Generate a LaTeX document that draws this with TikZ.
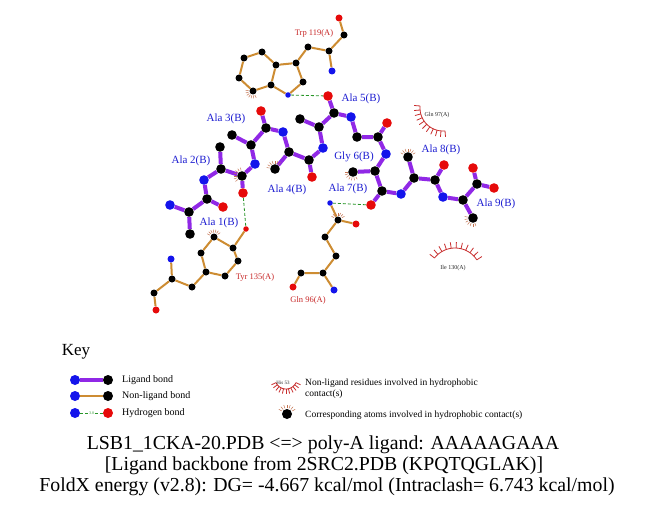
\documentclass[tikz,border=0pt]{standalone}
\usepackage{fontspec}
\setmainfont{Liberation Serif}
\usetikzlibrary{backgrounds,calc}
\definecolor{ligc}{RGB}{144,40,230}
\definecolor{nonc}{RGB}{205,140,50}
\definecolor{nblue}{RGB}{20,20,235}
\definecolor{ored}{RGB}{230,10,10}
\definecolor{hbc}{RGB}{40,150,40}
\definecolor{labblue}{RGB}{30,30,210}
\definecolor{labred}{RGB}{200,40,40}
\definecolor{spk}{RGB}{200,45,45}
\definecolor{aspk}{RGB}{195,115,80}
\tikzset{
 latom/.style={circle,inner sep=0pt,minimum size=9.6pt},
 natom/.style={circle,inner sep=0pt,minimum size=7pt},
 satom/.style={circle,inner sep=0pt,minimum size=5.5pt},
 katom/.style={circle,inner sep=0pt,minimum size=10pt},
 atk/.style={fill=black}, atb/.style={fill=nblue}, atr/.style={fill=ored},
 lbond/.style={draw=ligc,line width=4pt},
 nbond/.style={draw=nonc,line width=2pt},
 hbond/.style={draw=hbc,line width=0.8pt,dash pattern=on 3pt off 2pt},
 liglab/.style={text=labblue,font=\fontsize{11}{13}\selectfont,inner sep=0pt},
 reslab/.style={text=labred,font=\fontsize{8.5}{10}\selectfont,inner sep=0pt},
 tinylab/.style={text=black!85,font=\fontsize{6}{7}\selectfont,inner sep=0pt},
 keytxt/.style={font=\fontsize{10}{12}\selectfont,inner sep=0pt,anchor=west},
 bigtxt/.style={font=\fontsize{19.8}{22}\selectfont,inner sep=0pt},
 spike/.style={draw=spk,line width=0.8pt},
 aspike/.style={draw=aspk,line width=0.5pt},
}
% hydrophobic marks round an atom: node, direction, inner r, outer r
\newcommand\hydmark[4]{%
 \foreach \a in {-60,-40,...,60}{%
   \pgfmathsetmacro\ang{#2+\a}
   \draw[aspike] ($(#1)+(\ang:#3)$) -- ($(#1)+(\ang:#4)$);
 }}
% residue arc: cx, cy, r, a1, a2, spike length
\newcommand\resarc[6]{%
 \draw[spike] plot[smooth,domain=#4:#5,samples=25] ({#1+#3*cos(\x)},{#2+#3*sin(\x)});
 \pgfmathsetmacro\stp{(#5-#4)/10}
 \foreach \k in {0,...,10}{%
   \pgfmathsetmacro\tt{#4+\k*\stp}
   \draw[spike] ({#1+#3*cos(\tt)},{#2+#3*sin(\tt)}) -- ({#1+(#3+#6)*cos(\tt)},{#2+(#3+#6)*sin(\tt)});
 }}
\begin{document}
\begin{tikzpicture}[x=1pt,y=-1pt]
\useasboundingbox (0,0) rectangle (651,511);
% ---------- Trp 119(A)
\node[natom,atr] (w1) at (339,18) {};
\node[natom,atk] (w2) at (344,35) {};
\node[natom,atk] (w3) at (329,51) {};
\node[natom,atb] (w4) at (332,71) {};
\node[natom,atk] (w5) at (308,47) {};
\node[natom,atk] (w6) at (296,63) {};
\node[natom,atk] (w7) at (276,65) {};
\node[natom,atk] (w8) at (262,52) {};
\node[natom,atk] (w9) at (244,58) {};
\node[natom,atk] (w10) at (239,78) {};
\node[natom,atk] (w11) at (253,91) {};
\node[natom,atk] (w12) at (271,85) {};
\node[natom,atk] (w13) at (303,82) {};
\node[satom,atb] (w14) at (288,95) {};
\node[reslab] (lw) at (314,33) {Trp 119(A)};
% ---------- Tyr 135(A)
\node[satom,atr] (y1) at (246,229) {};
\node[natom,atk] (y2) at (233,248) {};
\node[natom,atk] (y3) at (214,237) {};
\node[natom,atk] (y4) at (201,253) {};
\node[natom,atk] (y5) at (206,272) {};
\node[natom,atk] (y6) at (225,276) {};
\node[natom,atk] (y7) at (238,261) {};
\node[natom,atk] (y8) at (192,287) {};
\node[natom,atk] (y9) at (172,279) {};
\node[natom,atb] (y10) at (171,259) {};
\node[natom,atk] (y11) at (154,293) {};
\node[natom,atr] (y12) at (156,310) {};
\node[reslab] (ly) at (255,277) {Tyr 135(A)};
% ---------- Gln 96(A)
\node[satom,atb] (q1) at (330,203) {};
\node[natom,atk] (q2) at (338,220) {};
\node[natom,atr] (q3) at (356,224) {};
\node[natom,atk] (q4) at (325,237) {};
\node[natom,atk] (q5) at (336,256) {};
\node[natom,atk] (q6) at (323,273) {};
\node[natom,atk] (q7) at (301,273) {};
\node[natom,atr] (q8) at (293,287) {};
\node[natom,atb] (q9) at (334,290) {};
\node[reslab] (lq) at (308,300) {Gln 96(A)};
% ---------- ligand
\node[latom,atb] (n1) at (170,205) {};
\node[latom,atk] (ca1) at (189,212) {};
\node[latom,atk] (cb1) at (190,234) {};
\node[latom,atk] (c1) at (207,199) {};
\node[latom,atr] (o1) at (223,207) {};
\node[latom,atb] (n2) at (204,180) {};
\node[latom,atk] (ca2) at (221,169) {};
\node[latom,atk] (cb2) at (220,147) {};
\node[latom,atk] (c2) at (242,176) {};
\node[latom,atr] (o2) at (243,193) {};
\node[latom,atb] (n3) at (255,164) {};
\node[latom,atk] (ca3) at (251,145) {};
\node[latom,atk] (cb3) at (232,135) {};
\node[latom,atk] (c3) at (266,128) {};
\node[latom,atr] (o3) at (261,111) {};
\node[latom,atb] (n4) at (283,132) {};
\node[latom,atk] (ca4) at (289,152) {};
\node[latom,atk] (cb4) at (275,169) {};
\node[latom,atk] (c4) at (309,160) {};
\node[latom,atr] (o4) at (312,177) {};
\node[latom,atb] (n5) at (323,148) {};
\node[latom,atk] (ca5) at (319,127) {};
\node[latom,atk] (cb5) at (300,119) {};
\node[latom,atk] (c5) at (334,113) {};
\node[latom,atr] (o5) at (328,96) {};
\node[latom,atb] (n6) at (351,117) {};
\node[latom,atk] (ca6) at (357,137) {};
\node[latom,atk] (c6) at (378,137) {};
\node[latom,atr] (o6) at (387,123) {};
\node[latom,atb] (n7) at (386,154) {};
\node[latom,atk] (ca7) at (375,171) {};
\node[latom,atk] (cb7) at (353,172) {};
\node[latom,atk] (c7) at (382,191) {};
\node[latom,atr] (o7) at (371,205) {};
\node[latom,atb] (n8) at (401,194) {};
\node[latom,atk] (ca8) at (414,178) {};
\node[latom,atk] (cb8) at (408,157) {};
\node[latom,atk] (c8) at (435,180) {};
\node[latom,atr] (o8) at (444,165) {};
\node[latom,atb] (n9) at (443,197) {};
\node[latom,atk] (ca9) at (463,200) {};
\node[latom,atk] (cb9) at (473,218) {};
\node[latom,atk] (c9) at (477,184) {};
\node[latom,atr] (o9) at (473,168) {};
\node[latom,atr] (ox9) at (494,188) {};
% ligand labels
\node[liglab] (l1) at (219,223) {Ala 1(B)};
\node[liglab] (l2) at (191,161) {Ala 2(B)};
\node[liglab] (l3) at (226,119) {Ala 3(B)};
\node[liglab] (l4) at (287,190) {Ala 4(B)};
\node[liglab] (l5) at (361,99) {Ala 5(B)};
\node[liglab] (l6) at (354,157) {Gly 6(B)};
\node[liglab] (l7) at (348,189) {Ala 7(B)};
\node[liglab] (l8) at (441,150) {Ala 8(B)};
\node[liglab] (l9) at (496,204) {Ala 9(B)};
% hydrophobic residues
\resarc{443}{108}{23}{85}{185}{6}
\node[tinylab] (lg97) at (437,115) {Gln 97(A)};
\resarc{455}{274}{26}{218}{327}{6}
\node[tinylab] (li130) at (453,268) {Ile 130(A)};
% hydrophobic atoms
\hydmark{w11}{125}{4.5}{7.5}
\hydmark{c2}{200}{5.5}{8.5}
\hydmark{cb4}{250}{5.5}{8.5}
\hydmark{y3}{265}{4.5}{7.5}
\hydmark{q2}{270}{4.5}{7.5}
\hydmark{cb7}{120}{5.5}{8.5}
\hydmark{cb8}{270}{5.5}{8.5}
\hydmark{cb9}{130}{5.5}{8.5}
% ---------- key
\node[font=\fontsize{17}{20}\selectfont,inner sep=0pt] (key) at (76,352) {Key};
\node[katom,atb] (kb1) at (75,380) {};
\node[katom,atk] (kk1) at (108,380) {};
\node[keytxt] (kt1) at (122,380) {Ligand bond};
\node[katom,atb] (kb2) at (75,396) {};
\node[katom,atk] (kk2) at (108,396) {};
\node[keytxt] (kt2) at (122,396) {Non-ligand bond};
\node[katom,atb] (kb3) at (75,413) {};
\node[katom,atr] (kr3) at (108,413) {};
\node[text=hbc,font=\fontsize{4}{5}\selectfont,inner sep=0.5pt] (k30) at (91.5,413) {3.0};
\node[keytxt] (kt3) at (122,413) {Hydrogen bond};
\resarc{286}{378}{11}{25}{155}{5}
\node[tinylab,font=\fontsize{5}{6}\selectfont] (khis) at (283,383) {His 53};
\node[keytxt,font=\fontsize{9.5}{11}\selectfont] (kt4) at (305,383) {Non-ligand residues involved in hydrophobic};
\node[keytxt,font=\fontsize{9.5}{11}\selectfont] (kt5) at (305,394) {contact(s)};
\node[katom,atk] (kh) at (287,414) {};
\hydmark{kh}{270}{6}{9.5}
\node[keytxt,font=\fontsize{9.5}{11}\selectfont] (kt6) at (305,415) {Corresponding atoms involved in hydrophobic contact(s)};
% ---------- title
\node[bigtxt] (t1) at (323,445) {LSB1\_1CKA-20.PDB <=> poly-A ligand: AAAAAGAAA};
\node[bigtxt] (t2) at (324,466) {[Ligand backbone from 2SRC2.PDB (KPQTQGLAK)]};
\node[bigtxt] (t3) at (327,487) {FoldX energy (v2.8): DG= -4.667 kcal/mol (Intraclash= 6.743 kcal/mol)};
% ---------- bonds behind atoms
\begin{scope}[on background layer]
\fill[white] (0,0) rectangle (651,511);
\draw[nbond] (w1)--(w2) (w2)--(w3) (w3)--(w4) (w3)--(w5) (w5)--(w6) (w6)--(w7)
  (w7)--(w8) (w8)--(w9) (w9)--(w10) (w10)--(w11) (w11)--(w12) (w12)--(w7)
  (w6)--(w13) (w13)--(w14) (w14)--(w12);
\draw[nbond] (y1)--(y2) (y2)--(y3) (y3)--(y4) (y4)--(y5) (y5)--(y6) (y6)--(y7)
  (y7)--(y2) (y5)--(y8) (y8)--(y9) (y9)--(y10) (y9)--(y11) (y11)--(y12);
\draw[nbond] (q1)--(q2) (q2)--(q3) (q2)--(q4) (q4)--(q5) (q5)--(q6) (q6)--(q7)
  (q7)--(q8) (q6)--(q9);
\draw[lbond] (n1)--(ca1) (ca1)--(cb1) (ca1)--(c1) (c1)--(o1) (c1)--(n2)
  (n2)--(ca2) (ca2)--(cb2) (ca2)--(c2) (c2)--(o2) (c2)--(n3)
  (n3)--(ca3) (ca3)--(cb3) (ca3)--(c3) (c3)--(o3) (c3)--(n4)
  (n4)--(ca4) (ca4)--(cb4) (ca4)--(c4) (c4)--(o4) (c4)--(n5)
  (n5)--(ca5) (ca5)--(cb5) (ca5)--(c5) (c5)--(o5) (c5)--(n6)
  (n6)--(ca6) (ca6)--(c6) (c6)--(o6) (c6)--(n7)
  (n7)--(ca7) (ca7)--(cb7) (ca7)--(c7) (c7)--(o7) (c7)--(n8)
  (n8)--(ca8) (ca8)--(cb8) (ca8)--(c8) (c8)--(o8) (c8)--(n9)
  (n9)--(ca9) (ca9)--(cb9) (ca9)--(c9) (c9)--(o9) (c9)--(ox9);
\draw[hbond] (w14)--(o5);
\draw[hbond] (o2)--(y1);
\draw[hbond] (q1)--(o7);
\draw[lbond] (kb1)--(kk1);
\draw[nbond,line width=2.5pt] (kb2)--(kk2);
\draw[hbond] (kb3)--(k30);
\draw[hbond] (k30)--(kr3);
\end{scope}
\end{tikzpicture}
\end{document}
